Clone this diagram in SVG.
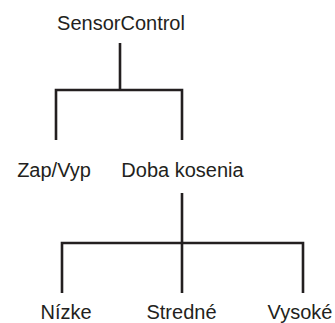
<svg xmlns="http://www.w3.org/2000/svg" width="335" height="323" viewBox="0 0 335 323">
<style>
text{font-family:"Liberation Sans",Arial,sans-serif;font-size:20px;fill:#231f20;text-anchor:middle}
.c{fill:none;stroke:#231f20;stroke-width:2.6;stroke-linecap:butt;stroke-linejoin:miter}
</style>
<rect width="335" height="323" fill="#fff"/>
<g id="connectors">
<path class="c" d="M120,43V90"/>
<path class="c" d="M56,140V90H182V140"/>
<path class="c" d="M182,193V293"/>
<path class="c" d="M62,293V243H303V293"/>
</g>
<g id="n-sensorcontrol"><text x="121" y="30">SensorControl</text></g>
<g id="n-zapvyp"><text x="54" y="177">Zap/Vyp</text></g>
<g id="n-doba"><text x="182.5" y="177">Doba kosenia</text></g>
<g id="n-nizke"><text x="66" y="319">Nízke</text></g>
<g id="n-stredne"><text x="181.5" y="319">Stredné</text></g>
<g id="n-vysoke"><text x="300" y="319">Vysoké</text></g>
</svg>
